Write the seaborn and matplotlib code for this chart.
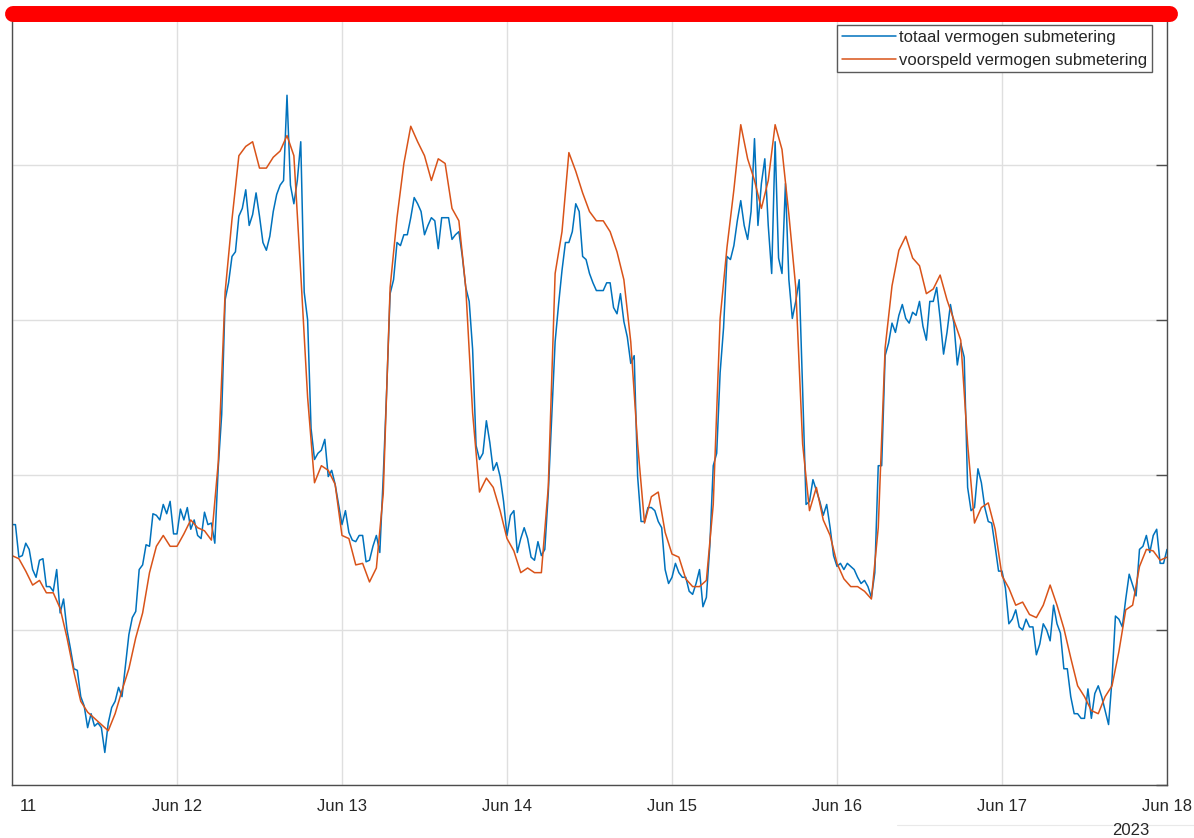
import numpy as np
import pandas as pd
import matplotlib
matplotlib.use("Agg")
import matplotlib.pyplot as plt
import matplotlib.dates as mdates
from matplotlib.lines import Line2D
import seaborn as sns

# ---------------- data ----------------
start = "2023-06-11"
series_measured = "totaal vermogen submetering"
series_predicted = "voorspeld vermogen submetering"

# measured power, half-hourly, Jun 11 00:00 .. Jun 18 00:00
measured_jun11 = [16.8, 16.8, 14.7, 14.8, 15.6, 15.2, 13.9, 13.4, 14.5, 14.6, 12.8, 12.8,
                  12.5, 13.9, 11.1, 12.0, 10.0, 8.8, 7.5, 7.4, 5.7, 5.1, 3.7, 4.6,
                  3.8, 4.0, 3.7, 2.1, 4.0, 5.0, 5.4, 6.3, 5.7, 7.7, 9.7, 10.8,
                  11.2, 13.9, 14.2, 15.5, 15.4, 17.5, 17.4, 17.1, 18.1, 17.5, 18.3, 16.2]
measured_jun12 = [16.2, 17.8, 17.1, 17.9, 16.5, 17.1, 16.1, 15.9, 17.6, 16.8, 16.9, 15.6,
                  20.5, 23.9, 31.3, 32.4, 34.1, 34.4, 36.7, 37.2, 38.4, 36.1, 36.8, 38.2,
                  36.7, 35.0, 34.5, 35.4, 37.0, 38.1, 38.7, 39.0, 44.5, 38.7, 37.5, 39.0,
                  41.5, 31.8, 30.0, 23.0, 21.0, 21.4, 21.6, 22.3, 19.9, 20.3, 19.4, 18.1]
measured_jun13 = [16.8, 17.7, 16.3, 15.8, 15.7, 16.1, 16.1, 14.4, 14.5, 15.4, 16.1, 15.0,
                  19.9, 25.5, 31.7, 32.6, 35.0, 34.8, 35.5, 35.5, 36.6, 37.9, 37.5, 37.0,
                  35.5, 36.1, 36.6, 36.4, 34.6, 36.6, 36.6, 36.6, 35.2, 35.5, 35.7, 34.1,
                  32.1, 31.2, 28.1, 21.9, 21.0, 21.4, 23.5, 22.1, 20.3, 20.8, 19.9, 18.3]
measured_jun14 = [16.1, 17.4, 17.7, 15.0, 15.9, 16.6, 15.9, 14.7, 14.5, 15.7, 14.8, 15.2,
                  18.8, 23.7, 28.6, 31.0, 33.2, 35.0, 35.0, 35.7, 37.5, 37.0, 34.1, 33.9,
                  33.0, 32.4, 31.9, 31.9, 31.9, 32.4, 32.4, 30.8, 30.4, 31.7, 29.9, 28.9,
                  27.2, 27.7, 19.9, 17.0, 17.0, 17.9, 17.9, 17.7, 17.0, 16.6, 13.9, 13.0]
measured_jun15 = [13.4, 14.3, 13.7, 13.4, 13.4, 12.5, 12.3, 13.0, 13.9, 11.5, 12.1, 15.4,
                  20.6, 21.4, 26.6, 29.5, 34.1, 33.9, 34.8, 36.4, 37.7, 36.1, 35.2, 37.0,
                  41.7, 36.1, 38.8, 40.4, 36.1, 33.0, 41.5, 34.0, 33.0, 38.8, 32.6, 30.1,
                  31.2, 32.6, 25.5, 18.1, 18.3, 19.7, 19.0, 18.3, 17.4, 18.1, 16.6, 14.8]
measured_jun16 = [14.1, 14.3, 13.9, 14.3, 14.1, 13.9, 13.4, 13.0, 13.2, 12.8, 12.1, 13.7,
                  20.6, 20.6, 27.7, 28.5, 29.8, 29.2, 30.3, 31.0, 30.1, 29.8, 30.5, 30.3,
                  31.2, 29.6, 28.7, 31.2, 31.2, 32.1, 30.1, 27.8, 29.2, 31.0, 29.8, 27.1,
                  28.5, 27.6, 19.2, 17.7, 17.9, 20.4, 19.5, 17.9, 17.0, 16.9, 15.4, 13.8]
measured_jun17 = [13.8, 12.7, 10.4, 10.7, 11.3, 10.2, 10.0, 10.7, 10.2, 10.2, 8.4, 9.1,
                  10.4, 10.0, 9.3, 11.6, 10.4, 9.8, 7.5, 7.5, 5.7, 4.6, 4.6, 4.3,
                  4.3, 6.2, 4.3, 5.9, 6.4, 5.7, 4.8, 3.9, 6.8, 10.9, 10.7, 10.2,
                  12.0, 13.6, 12.9, 12.2, 15.2, 15.4, 16.1, 15.0, 16.1, 16.5, 14.3, 14.3]
measured_jun18 = [15.2]

# predicted power, hourly, Jun 11 00:00 .. Jun 18 00:00
predicted_jun11 = [14.8, 14.6, 13.8, 12.9, 13.2, 12.4, 12.4, 11.4, 9.5, 7.3, 5.4, 4.7,
                   4.3, 3.9, 3.5, 4.6, 6.1, 7.5, 9.5, 11.1, 13.7, 15.4, 16.1, 15.4]
predicted_jun12 = [15.4, 16.2, 17.1, 16.6, 16.4, 15.8, 20.8, 31.8, 36.5, 40.6, 41.2, 41.5,
                   39.8, 39.8, 40.5, 40.9, 41.9, 40.6, 33.0, 25.0, 19.5, 20.6, 20.3, 19.4]
predicted_jun13 = [16.1, 15.9, 14.2, 14.3, 13.1, 14.0, 18.8, 32.1, 36.6, 40.1, 42.5, 41.5,
                   40.6, 39.0, 40.4, 40.1, 37.2, 36.4, 32.1, 24.0, 18.9, 19.8, 19.2, 17.7]
predicted_jun14 = [15.9, 15.1, 13.7, 14.0, 13.7, 13.7, 19.2, 33.0, 35.7, 40.8, 39.6, 38.2,
                   37.0, 36.4, 36.4, 35.7, 34.4, 32.6, 28.6, 22.0, 16.9, 18.6, 18.9, 16.3]
predicted_jun15 = [14.9, 14.7, 13.3, 12.8, 12.8, 13.2, 18.1, 30.1, 34.7, 38.4, 42.6, 40.4,
                   39.0, 37.2, 39.0, 42.6, 41.0, 36.8, 32.1, 22.0, 17.7, 19.2, 17.1, 16.1]
predicted_jun16 = [14.3, 13.3, 12.8, 12.8, 12.5, 12.0, 16.6, 28.2, 32.2, 34.5, 35.4, 34.0,
                   33.5, 31.7, 32.0, 32.9, 31.3, 30.0, 28.7, 22.0, 16.9, 17.9, 18.2, 16.5]
predicted_jun17 = [13.5, 12.7, 11.6, 11.8, 11.0, 10.8, 11.6, 12.9, 11.6, 10.1, 8.2, 6.4,
                   5.7, 4.8, 4.6, 5.7, 6.4, 8.6, 11.3, 11.6, 14.1, 15.2, 15.1, 14.5]
predicted_jun18 = [14.7]

y_ticks = [0, 10, 20, 30, 40, 50]
year_label = "2023"
first_day_label = "11"

measured = (measured_jun11 + measured_jun12 + measured_jun13 + measured_jun14 +
            measured_jun15 + measured_jun16 + measured_jun17 + measured_jun18)
predicted = (predicted_jun11 + predicted_jun12 + predicted_jun13 + predicted_jun14 +
             predicted_jun15 + predicted_jun16 + predicted_jun17 + predicted_jun18)

df_meas = pd.DataFrame({"t": pd.date_range(start, periods=len(measured), freq="30min"),
                        "v": measured})
df_pred = pd.DataFrame({"t": pd.date_range(start, periods=len(predicted), freq="h"),
                        "v": predicted})

# ---------------- styling ----------------
sns.set_style("white")
plt.rcParams["font.family"] = ["Liberation Sans", "DejaVu Sans"]

W, H = 1194, 838
fig = plt.figure(figsize=(W / 100, H / 100), dpi=100, facecolor="white")
ax = fig.add_axes([12 / W, 1 - 785 / H, (1167 - 12) / W, (785 - 10) / H])
ax.set_facecolor("white")

blue = "#0072BD"
orange = "#D95319"
txt = "#262626"

sns.lineplot(data=df_meas, x="t", y="v", ax=ax, color=blue, linewidth=1.1,
             label=series_measured)
sns.lineplot(data=df_pred, x="t", y="v", ax=ax, color=orange, linewidth=1.1,
             label=series_predicted)

t0, t1 = pd.Timestamp("2023-06-11"), pd.Timestamp("2023-06-18")
ax.set_xlim(t0, t1)
ax.set_ylim(y_ticks[0], y_ticks[-1])
ax.set_yticks(y_ticks)
ax.xaxis.set_major_locator(mdates.DayLocator())
day_fmt = mdates.DateFormatter("%b %d")
ax.xaxis.set_major_formatter(
    plt.FuncFormatter(lambda x, pos: "" if abs(x - mdates.date2num(t0)) < 1e-6
                      else day_fmt(x, pos)))
ax.set_xlabel("")
ax.set_ylabel("")

ax.grid(True, color="#dfdfdf", linewidth=1.0)
ax.set_axisbelow(True)
for s in ax.spines.values():
    s.set_visible(True)
    s.set_color("#4d4d4d")
    s.set_linewidth(1.0)

PAD = 10
ax.tick_params(axis="both", direction="in", length=8, width=1.0, color="#4d4d4d",
               top=True, right=True, labelleft=False, labelsize=12,
               labelcolor=txt, pad=PAD)

# the first date label is only partly visible in the reference ("11")
ax.annotate(first_day_label, xy=(mdates.date2num(t0), 0),
            xycoords=("data", "axes fraction"), xytext=(12, -PAD),
            textcoords="offset points", ha="center", va="top", fontsize=12, color=txt)

leg = ax.legend(loc="upper right", bbox_to_anchor=(1152 / W, 1 - 25 / H),
                bbox_transform=fig.transFigure, borderaxespad=0,
                frameon=True, fancybox=False, framealpha=1, edgecolor="#5a5a5a",
                fontsize=12, handlelength=3.2, handletextpad=0.2,
                borderpad=0.3, labelspacing=0.45)
leg.get_frame().set_linewidth(1.0)
for t in leg.get_texts():
    t.set_color(txt)

fig.text(1131 / W, 3 / H, year_label, ha="center", va="baseline", fontsize=12,
         color=txt)

# faint strip at the bottom right
fig.add_artist(Line2D([897 / W, 1.0], [1 - 825 / H] * 2, transform=fig.transFigure,
                      color="#e9e9e9", linewidth=0.8))

# thick red bar across the top
fig.add_artist(Line2D([13 / W, 1170 / W], [1 - 14 / H] * 2, transform=fig.transFigure,
                      color="#ff0000", linewidth=11.5, solid_capstyle="round", zorder=10))

fig.savefig("out.png", dpi=100, facecolor="white")
